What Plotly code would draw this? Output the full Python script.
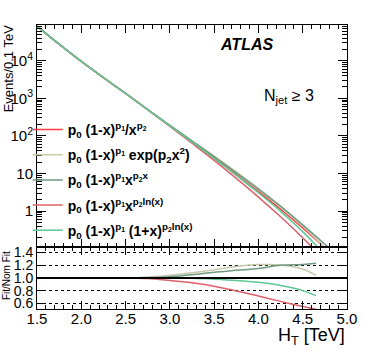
import plotly.graph_objects as go
from plotly.subplots import make_subplots

# H_T grid (TeV) for the fit curves in the top panel
ht = [1.5, 1.75, 2.0, 2.25, 2.5, 2.75, 3.0, 3.25, 3.5, 3.75, 4.0, 4.25, 4.5, 4.75, 4.9]

# events / 0.1 TeV
nom_fit = [83000, 27500, 9550, 3550, 1350, 500, 186, 69, 25.7, 9.3, 3.3, 1.12, 0.355, 0.105, 0.05]
exp_fit = [83000, 27500, 9550, 3550, 1350, 505, 193, 74.5, 29.0, 11.0, 4.0, 1.35, 0.405, 0.105, 0.047]
xpx_fit = [83000, 27500, 9550, 3550, 1350, 502, 190, 72.5, 28.0, 10.4, 3.8, 1.34, 0.43, 0.131, 0.064]
xln_fit = [83000, 27500, 9550, 3550, 1350, 495, 179, 63.8, 22.4, 7.39, 2.36, 0.706, 0.195, 0.048, 0.02]
opx_fit = [83000, 27500, 9550, 3550, 1350, 500, 186, 68.7, 25.2, 8.93, 3.07, 0.986, 0.284, 0.069, 0.029]

# ratio panel
ht_r = [1.5, 2.0, 2.5, 2.75, 3.0, 3.25, 3.5, 3.75, 4.0, 4.25, 4.5, 4.65]
exp_ratio = [1.0, 1.0, 1.0, 1.01, 1.04, 1.08, 1.13, 1.18, 1.21, 1.205, 1.14, 1.04]
xpx_ratio = [1.0, 1.0, 1.0, 1.005, 1.02, 1.05, 1.09, 1.12, 1.15, 1.20, 1.21, 1.23]
xln_ratio = [1.0, 1.0, 1.0, 0.99, 0.96, 0.925, 0.87, 0.795, 0.715, 0.63, 0.55, 0.505]
opx_ratio = [1.0, 1.0, 1.0, 1.0, 1.0, 0.995, 0.98, 0.96, 0.93, 0.88, 0.80, 0.72]

names = [
    "<b>p<sub>0</sub> (1-x)<sup>p<sub>1</sub></sup>/x<sup>p<sub>2</sub></sup></b>",
    "<b>p<sub>0</sub> (1-x)<sup>p<sub>1</sub></sup> exp(p<sub>2</sub>x<sup>2</sup>)</b>",
    "<b>p<sub>0</sub> (1-x)<sup>p<sub>1</sub></sup>x<sup>p<sub>2</sub>x</sup></b>",
    "<b>p<sub>0</sub> (1-x)<sup>p<sub>1</sub></sup>x<sup>p<sub>2</sub>ln(x)</sup></b>",
    "<b>p<sub>0</sub> (1-x)<sup>p<sub>1</sub></sup> (1+x)<sup>p<sub>2</sub>ln(x)</sup></b>",
]
colors = ["#ff3b3b", "#c9c9ad", "#6f9a80", "#e0606a", "#5fc795"]

FONT = "Liberation Sans"

fig = make_subplots(rows=2, cols=1, shared_xaxes=True, row_heights=[0.781, 0.219],
                    vertical_spacing=0)

mains = [nom_fit, exp_fit, xpx_fit, xln_fit, opx_fit]
for i, y in enumerate(mains):
    fig.add_trace(go.Scatter(x=ht, y=y, mode="lines", name=names[i], legendgroup=str(i),
                             line=dict(color=colors[i], width=1.5, shape="spline")),
                  row=1, col=1)

ratios = [exp_ratio, xpx_ratio, xln_ratio, opx_ratio]
for i, r in enumerate(ratios):
    fig.add_trace(go.Scatter(x=ht_r, y=r, mode="lines", showlegend=False,
                             line=dict(color=colors[i + 1], width=1.5, shape="spline")),
                  row=2, col=1)

fig.add_hline(y=1.0, line=dict(color="black", width=2), row=2, col=1)

axis_common = dict(showline=True, linecolor="black", linewidth=1, mirror="allticks",
                   ticks="inside", tickcolor="black", showgrid=False, zeroline=False,
                   automargin=False)

fig.update_xaxes(range=[1.5, 5.0], dtick=0.5, ticklen=8,
                 minor=dict(dtick=0.1, ticklen=4, ticks="inside", tickcolor="black"),
                 **axis_common)
fig.update_xaxes(showticklabels=False, row=1, col=1)
fig.update_xaxes(tickformat=".1f", tickfont=dict(family=FONT, size=15, color="black"),
                 ticklabelstandoff=-4, row=2, col=1)

fig.update_yaxes(type="log", range=[-0.95, 4.95], row=1, col=1,
                 tickvals=[1, 10, 100, 1000, 10000],
                 ticktext=["1", "10", "10<sup>2</sup>", "10<sup>3</sup>", "10<sup>4</sup>"],
                 tickfont=dict(family=FONT, size=15, color="black"), ticklen=9,
                 minor=dict(ticks="inside", ticklen=5, tickcolor="black", dtick="D1"),
                 **axis_common)
fig.update_yaxes(range=[0.51, 1.49], row=2, col=1,
                 tickvals=[0.6, 0.8, 1.0, 1.2, 1.4],
                 ticktext=["0.6", "0.8", "1.0", "1.2", "1.4"],
                 tickfont=dict(family=FONT, size=14, color="black"), ticklen=8,
                 showline=True, linecolor="black", linewidth=1, mirror="allticks",
                 ticks="inside", tickcolor="black", zeroline=False, automargin=False,
                 showgrid=True, gridcolor="black", griddash="dot", gridwidth=1)

fig.add_annotation(text="<b><i>ATLAS</i></b>", xref="paper", yref="paper",
                   x=0.676, y=0.933, xanchor="center", yanchor="middle", showarrow=False,
                   font=dict(family=FONT, size=16, color="black"))
fig.add_annotation(text="N<sub>jet</sub> \u2265 3", xref="paper", yref="paper",
                   x=0.9, y=0.75, xanchor="right", yanchor="middle", showarrow=False,
                   font=dict(family=FONT, size=16, color="black"))
fig.add_annotation(text="Events/0.1 TeV", xref="paper", yref="paper",
                   x=-0.092, y=0.849, xanchor="center", yanchor="middle",
                   textangle=-90, showarrow=False,
                   font=dict(family=FONT, size=13, color="black"))
fig.add_annotation(text="Fit/Nom Fit", xref="paper", yref="paper",
                   x=-0.1, y=0.116, xanchor="center", yanchor="middle",
                   textangle=-90, showarrow=False,
                   font=dict(family=FONT, size=10, color="black"))
fig.add_annotation(text="H<sub>T</sub> [TeV]", xref="paper", yref="paper",
                   x=1.0, xanchor="right", y=-0.097, yanchor="middle", showarrow=False,
                   font=dict(family=FONT, size=18, color="black"))

fig.update_layout(
    width=366, height=352,
    margin=dict(l=37, r=19, t=25, b=43),
    paper_bgcolor="white", plot_bgcolor="white",
    showlegend=True,
    legend=dict(x=-0.03, y=0.687, xanchor="left", yanchor="top",
                bgcolor="rgba(0,0,0,0)", itemwidth=30, tracegroupgap=4,
                font=dict(family=FONT, size=14, color="black")),
)

# drop the default 8px page margin so the figure sits at the window corner
fig.write_html("out.html", config={"displayModeBar": False},
               post_script="document.body.style.margin='0';")
